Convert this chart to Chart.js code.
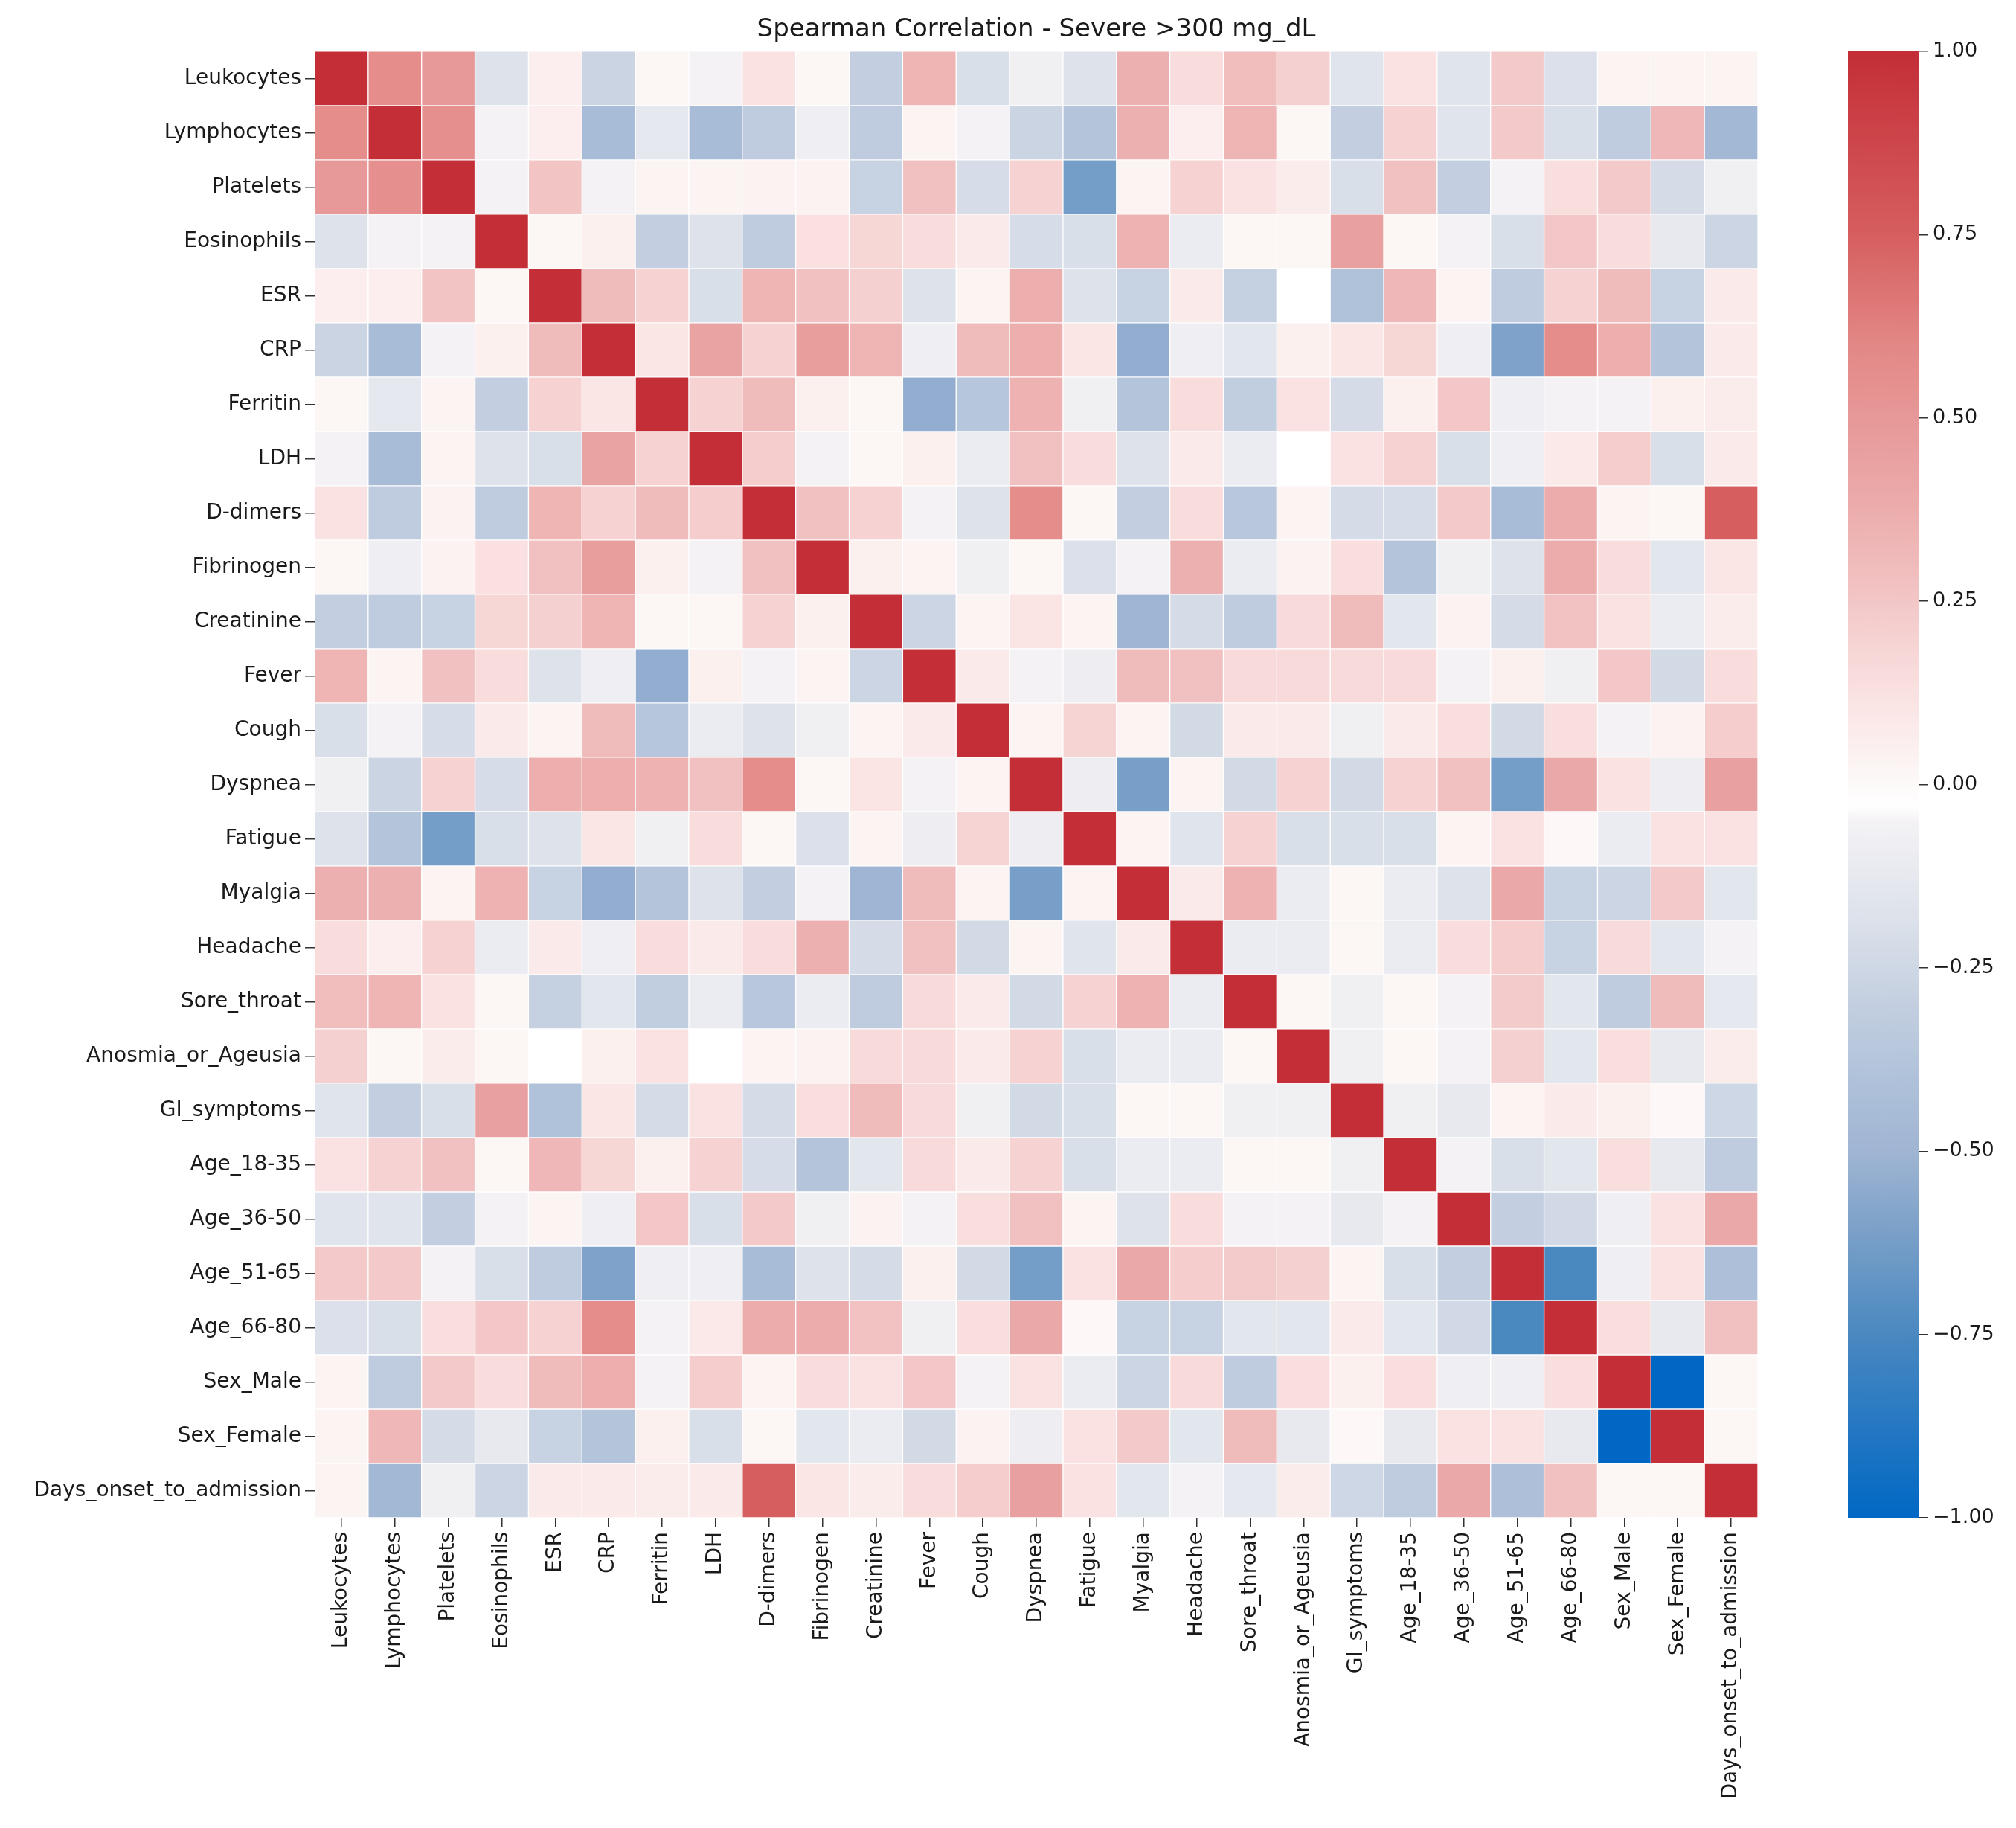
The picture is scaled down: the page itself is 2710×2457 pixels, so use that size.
<!DOCTYPE html>
<html>
<head>
<meta charset="utf-8">
<title>Spearman Correlation - Severe >300 mg_dL</title>
<script src="https://cdn.jsdelivr.net/npm/chart.js"></script>
<style>
  body { margin: 0; background: #fff; }
  canvas { position: absolute; top: 0; }
</style>
</head>
<body>
<canvas id="heat" width="2440" height="2457" style="left:0"></canvas>
<canvas id="cbar" width="270" height="2457" style="left:2440px"></canvas>
<script>
const variables = ['Leukocytes', 'Lymphocytes', 'Platelets', 'Eosinophils', 'ESR', 'CRP', 'Ferritin', 'LDH',
    'D-dimers', 'Fibrinogen', 'Creatinine', 'Fever', 'Cough', 'Dyspnea', 'Fatigue', 'Myalgia', 'Headache',
    'Sore_throat', 'Anosmia_or_Ageusia', 'GI_symptoms', 'Age_18-35', 'Age_36-50', 'Age_51-65', 'Age_66-80',
    'Sex_Male', 'Sex_Female', 'Days_onset_to_admission'];

// one row of the correlation matrix per variable, columns in the same order
const leukocytes  = [1, 0.57, 0.5, -0.17, 0.06, -0.27, 0.02, -0.05, 0.12, 0.02, -0.3, 0.33, -0.2, -0.07, -0.18, 0.36, 0.15, 0.29, 0.21, -0.16, 0.12, -0.16, 0.24, -0.19, 0.03, 0.03, 0.03];
const lymphocytes = [0.57, 1, 0.55, -0.05, 0.06, -0.45, -0.13, -0.45, -0.32, -0.08, -0.32, 0.03, -0.05, -0.27, -0.38, 0.36, 0.06, 0.33, 0.02, -0.3, 0.2, -0.16, 0.24, -0.2, -0.32, 0.32, -0.48];
const platelets   = [0.5, 0.55, 1, -0.05, 0.26, -0.05, 0.03, 0.03, 0.04, 0.04, -0.28, 0.28, -0.21, 0.2, -0.63, 0.03, 0.2, 0.12, 0.07, -0.2, 0.28, -0.3, -0.05, 0.14, 0.24, -0.22, -0.07];
const eosinophils = [-0.17, -0.05, -0.05, 1, 0.02, 0.05, -0.3, -0.17, -0.32, 0.13, 0.18, 0.15, 0.08, -0.21, -0.2, 0.35, -0.1, 0.02, 0.02, 0.45, 0.02, -0.05, -0.2, 0.25, 0.15, -0.12, -0.26];
const esr         = [0.06, 0.06, 0.26, 0.02, 1, 0.3, 0.2, -0.2, 0.33, 0.28, 0.21, -0.17, 0.03, 0.37, -0.17, -0.28, 0.08, -0.29, -0.03, -0.4, 0.32, 0.03, -0.32, 0.2, 0.3, -0.28, 0.08];
const crp         = [-0.27, -0.45, -0.05, 0.05, 0.3, 1, 0.1, 0.43, 0.2, 0.46, 0.33, -0.08, 0.3, 0.37, 0.1, -0.54, -0.08, -0.15, 0.05, 0.1, 0.18, -0.08, -0.6, 0.57, 0.37, -0.38, 0.08];
const ferritin    = [0.02, -0.13, 0.03, -0.3, 0.2, 0.1, 1, 0.2, 0.3, 0.05, 0.02, -0.54, -0.37, 0.35, -0.07, -0.38, 0.15, -0.31, 0.12, -0.22, 0.05, 0.25, -0.08, -0.05, -0.05, 0.05, 0.07];
const ldh         = [-0.05, -0.45, 0.03, -0.17, -0.2, 0.43, 0.2, 1, 0.22, -0.05, 0.02, 0.05, -0.1, 0.28, 0.15, -0.17, 0.08, -0.1, -0.03, 0.12, 0.2, -0.2, -0.08, 0.09, 0.22, -0.2, 0.08];
const dDimers     = [0.12, -0.32, 0.04, -0.32, 0.33, 0.2, 0.3, 0.22, 1, 0.28, 0.2, -0.05, -0.17, 0.57, 0.02, -0.3, 0.15, -0.36, 0.03, -0.22, -0.21, 0.24, -0.45, 0.38, 0.03, 0.02, 0.75];
const fibrinogen  = [0.02, -0.08, 0.04, 0.13, 0.28, 0.46, 0.05, -0.05, 0.28, 1, 0.05, 0.03, -0.07, 0.02, -0.19, -0.05, 0.36, -0.1, 0.04, 0.14, -0.38, -0.07, -0.17, 0.38, 0.15, -0.15, 0.1];
const creatinine  = [-0.3, -0.32, -0.28, 0.18, 0.21, 0.33, 0.02, 0.02, 0.2, 0.05, 1, -0.26, 0.03, 0.11, 0.03, -0.5, -0.22, -0.32, 0.16, 0.3, -0.15, 0.04, -0.22, 0.27, 0.12, -0.1, 0.07];
const fever       = [0.33, 0.03, 0.28, 0.15, -0.17, -0.08, -0.54, 0.05, -0.05, 0.03, -0.26, 1, 0.08, -0.05, -0.09, 0.3, 0.28, 0.16, 0.16, 0.16, 0.16, -0.05, 0.05, -0.07, 0.25, -0.23, 0.15];
const cough       = [-0.2, -0.05, -0.21, 0.08, 0.03, 0.3, -0.37, -0.1, -0.17, -0.07, 0.03, 0.08, 1, 0.03, 0.19, 0.03, -0.23, 0.08, 0.08, -0.07, 0.08, 0.14, -0.23, 0.14, -0.05, 0.04, 0.22];
const dyspnea     = [-0.07, -0.27, 0.2, -0.21, 0.37, 0.37, 0.35, 0.28, 0.57, 0.02, 0.11, -0.05, 0.03, 1, -0.09, -0.62, 0.03, -0.23, 0.2, -0.23, 0.2, 0.28, -0.63, 0.4, 0.12, -0.09, 0.45];
const fatigue     = [-0.18, -0.38, -0.63, -0.2, -0.17, 0.1, -0.07, 0.15, 0.02, -0.19, 0.03, -0.09, 0.19, -0.09, 1, 0.03, -0.16, 0.2, -0.2, -0.2, -0.2, 0.03, 0.12, 0.01, -0.1, 0.12, 0.12];
const myalgia     = [0.36, 0.36, 0.03, 0.35, -0.28, -0.54, -0.38, -0.17, -0.3, -0.05, -0.5, 0.3, 0.03, -0.62, 0.03, 1, 0.08, 0.35, -0.1, 0.02, -0.1, -0.17, 0.4, -0.28, -0.26, 0.24, -0.15];
const headache    = [0.15, 0.06, 0.2, -0.1, 0.08, -0.08, 0.15, 0.08, 0.15, 0.36, -0.22, 0.28, -0.23, 0.03, -0.16, 0.08, 1, -0.1, -0.1, 0.02, -0.1, 0.15, 0.22, -0.28, 0.16, -0.15, -0.05];
const soreThroat  = [0.29, 0.33, 0.12, 0.02, -0.29, -0.15, -0.31, -0.1, -0.36, -0.1, -0.32, 0.16, 0.08, -0.23, 0.2, 0.35, -0.1, 1, 0.02, -0.07, 0.02, -0.05, 0.23, -0.15, -0.32, 0.3, -0.13];
const anosmia     = [0.21, 0.02, 0.07, 0.02, -0.03, 0.05, 0.12, -0.03, 0.03, 0.04, 0.16, 0.16, 0.08, 0.2, -0.2, -0.1, -0.1, 0.02, 1, -0.07, 0.02, -0.05, 0.21, -0.15, 0.14, -0.12, 0.07];
const giSymptoms  = [-0.16, -0.3, -0.2, 0.45, -0.4, 0.1, -0.22, 0.12, -0.22, 0.14, 0.3, 0.16, -0.07, -0.23, -0.2, 0.02, 0.02, -0.07, -0.07, 1, -0.07, -0.12, 0.03, 0.08, 0.05, 0.01, -0.25];
const age18to35   = [0.12, 0.2, 0.28, 0.02, 0.32, 0.18, 0.05, 0.2, -0.21, -0.38, -0.15, 0.16, 0.08, 0.2, -0.2, -0.1, -0.1, 0.02, 0.02, -0.07, 1, -0.05, -0.2, -0.15, 0.14, -0.12, -0.32];
const age36to50   = [-0.16, -0.16, -0.3, -0.05, 0.03, -0.08, 0.25, -0.2, 0.24, -0.07, 0.04, -0.05, 0.14, 0.28, 0.03, -0.17, 0.15, -0.05, -0.05, -0.12, -0.05, 1, -0.3, -0.24, -0.08, 0.12, 0.4];
const age51to65   = [0.24, 0.24, -0.05, -0.2, -0.32, -0.6, -0.08, -0.08, -0.45, -0.17, -0.22, 0.05, -0.23, -0.63, 0.12, 0.4, 0.22, 0.23, 0.21, 0.03, -0.2, -0.3, 1, -0.75, -0.08, 0.12, -0.42];
const age66to80   = [-0.19, -0.2, 0.14, 0.25, 0.2, 0.57, -0.05, 0.09, 0.38, 0.38, 0.27, -0.07, 0.14, 0.4, 0.01, -0.28, -0.28, -0.15, -0.15, 0.08, -0.15, -0.24, -0.75, 1, 0.14, -0.12, 0.28];
const sexMale     = [0.03, -0.32, 0.24, 0.15, 0.3, 0.37, -0.05, 0.22, 0.03, 0.15, 0.12, 0.25, -0.05, 0.12, -0.1, -0.26, 0.16, -0.32, 0.14, 0.05, 0.14, -0.08, -0.08, 0.14, 1, -1, 0.02];
const sexFemale   = [0.03, 0.32, -0.22, -0.12, -0.28, -0.38, 0.05, -0.2, 0.02, -0.15, -0.1, -0.23, 0.04, -0.09, 0.12, 0.24, -0.15, 0.3, -0.12, 0.01, -0.12, 0.12, 0.12, -0.12, -1, 1, 0.02];
const daysOnset   = [0.03, -0.48, -0.07, -0.26, 0.08, 0.08, 0.07, 0.08, 0.75, 0.1, 0.07, 0.15, 0.22, 0.45, 0.12, -0.15, -0.05, -0.13, 0.07, -0.25, -0.32, 0.4, -0.42, 0.28, 0.02, 0.02, 1];

const matrix = [leukocytes, lymphocytes, platelets, eosinophils, esr, crp, ferritin, ldh, dDimers, fibrinogen,
    creatinine, fever, cough, dyspnea, fatigue, myalgia, headache, soreThroat, anosmia, giSymptoms,
    age18to35, age36to50, age51to65, age66to80, sexMale, sexFemale, daysOnset];

const colorbarTicks = [-1, -0.75, -0.5, -0.25, 0, 0.25, 0.5, 0.75, 1];

// diverging blue - white - red colour map, sampled from the colour bar
const cmap = [
    [-1, [0, 104, 196]], [-0.75, [74, 136, 192]], [-0.6, [126, 162, 201]], [-0.5, [160, 181, 211]],
    [-0.4, [176, 194, 218]], [-0.3, [195, 207, 224]], [-0.2, [217, 223, 233]], [-0.1, [235, 236, 241]],
    [-0.05, [244, 242, 245]], [-0.03, [255, 255, 255]], [0.02, [252, 246, 245]], [0.1, [251, 230, 230]],
    [0.2, [246, 210, 210]], [0.3, [240, 187, 187]], [0.4, [235, 168, 168]], [0.5, [231, 152, 152]],
    [0.6, [226, 136, 134]], [0.75, [214, 94, 95]], [1, [196, 46, 54]]
];

function colorFor(v) {
    for (let i = 0; i < cmap.length - 1; i++) {
        const [a, ca] = cmap[i], [b, cb] = cmap[i + 1];
        if (v <= b) {
            const t = Math.max(0, (v - a) / (b - a));
            const c = ca.map((x, k) => Math.round(x + (cb[k] - x) * t));
            return `rgb(${c[0]},${c[1]},${c[2]})`;
        }
    }
    const c = cmap[cmap.length - 1][1];
    return `rgb(${c[0]},${c[1]},${c[2]})`;
}

Chart.defaults.font.family = '"DejaVu Sans", sans-serif';
Chart.defaults.color = '#1a1a1a';

const tickGrid = { drawOnChartArea: false, drawTicks: true, tickLength: 13, color: '#333', lineWidth: 1.5 };

new Chart(document.getElementById('heat'), {
    type: 'bar',
    data: {
        labels: variables,
        datasets: matrix.map((row, r) => ({
            data: row.map(() => [r, r + 1]),
            backgroundColor: row.map(colorFor),
            borderColor: '#fff',
            borderWidth: 1,
            borderSkipped: false
        }))
    },
    options: {
        responsive: false,
        animation: false,
        devicePixelRatio: 1,
        datasets: { bar: { grouped: false, barPercentage: 1, categoryPercentage: 1 } },
        layout: { padding: { left: 0, right: 77, top: 0, bottom: 0 } },
        plugins: {
            legend: { display: false },
            tooltip: { enabled: false },
            title: {
                display: true,
                text: 'Spearman Correlation - Severe >300 mg_dL',
                fullSize: false,
                font: { size: 34, weight: 'normal' },
                color: '#1a1a1a',
                padding: { top: 20, bottom: 8 }
            }
        },
        scales: {
            x: {
                type: 'category',
                offset: true,
                grid: { ...tickGrid, offset: false },
                border: { display: false },
                ticks: { minRotation: 90, maxRotation: 90, autoSkip: false, padding: 6, font: { size: 28 } },
                afterFit: s => { s.height = 417; }
            },
            y: {
                type: 'linear',
                min: 0,
                max: variables.length,
                reverse: true,
                grid: tickGrid,
                border: { display: false },
                afterBuildTicks: s => { s.ticks = variables.map((_, i) => ({ value: i + 0.5 })); },
                ticks: {
                    autoSkip: false,
                    padding: 5,
                    font: { size: 28 },
                    callback: v => variables[Math.floor(v)]
                },
                afterFit: s => { s.width = 423; }
            }
        }
    }
});

new Chart(document.getElementById('cbar'), {
    type: 'bar',
    data: {
        labels: ['r'],
        datasets: [{
            data: [[-1, 1]],
            borderWidth: 0,
            backgroundColor: c => {
                const y = c.chart.scales.y;
                if (!y || !c.chart.chartArea) return 'transparent';
                const g = c.chart.ctx.createLinearGradient(0, y.getPixelForValue(-1), 0, y.getPixelForValue(1));
                cmap.forEach(([v, col]) => g.addColorStop((v + 1) / 2, `rgb(${col[0]},${col[1]},${col[2]})`));
                return g;
            }
        }]
    },
    options: {
        responsive: false,
        animation: false,
        devicePixelRatio: 1,
        datasets: { bar: { barPercentage: 1, categoryPercentage: 1 } },
        layout: { padding: { left: 44, right: 0, top: 69, bottom: 417 } },
        plugins: { legend: { display: false }, tooltip: { enabled: false } },
        scales: {
            x: { display: false },
            y: {
                position: 'right',
                min: -1,
                max: 1,
                grid: { ...tickGrid, tickLength: 12 },
                border: { display: false },
                afterBuildTicks: s => { s.ticks = colorbarTicks.map(v => ({ value: v })); },
                ticks: {
                    padding: 6,
                    font: { size: 27 },
                    callback: v => (v < 0 ? '\u2212' : '') + Math.abs(v).toFixed(2)
                },
                afterFit: s => { s.width = 130; }
            }
        }
    }
});
</script>
</body>
</html>
